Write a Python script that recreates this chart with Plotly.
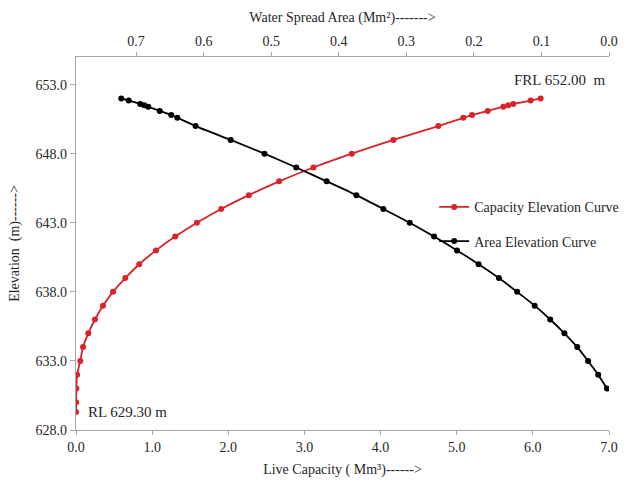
import plotly.graph_objects as go

# Capacity-elevation data (live capacity in Mm3)
cap_elev = [629.3, 630, 631, 632, 633, 634, 635, 636, 637, 638, 639, 640, 641, 642, 643,
            644, 645, 646, 647, 648, 649, 650, 650.6, 650.8, 651.1, 651.4, 651.5, 651.6,
            651.85, 652.0]
capacity = [0.0, 0.002, 0.005, 0.015, 0.056, 0.092, 0.161, 0.249, 0.354, 0.486, 0.647,
            0.831, 1.050, 1.303, 1.588, 1.907, 2.270, 2.668, 3.118, 3.622, 4.168, 4.759,
            5.087, 5.201, 5.407, 5.612, 5.677, 5.743, 5.971, 6.102]

# Area-elevation data (water spread area in Mm2)
area_elev = [631, 632, 633, 634, 635, 636, 637, 638, 639, 640, 641, 642, 643, 644, 645,
             646, 647, 648, 649, 650, 650.6, 650.8, 651.1, 651.4, 651.5, 651.6, 651.85, 652.0]
area = [0.003, 0.016, 0.031, 0.047, 0.066, 0.087, 0.110, 0.136, 0.163, 0.193, 0.225,
        0.259, 0.295, 0.334, 0.374, 0.418, 0.463, 0.510, 0.560, 0.612, 0.639, 0.648,
        0.665, 0.682, 0.688, 0.694, 0.711, 0.722]

FONT = "Liberation Serif"
RED = "#d9232b"
AXC = "#a6a6a6"
TXT = "#262626"

fig = go.Figure()
fig.add_trace(go.Scatter(
    x=capacity, y=cap_elev, mode="lines+markers", name="Capacity Elevation Curve",
    line=dict(color=RED, width=1.8, shape="spline", smoothing=0.6),
    marker=dict(color=RED, size=6), xaxis="x", yaxis="y", legendgroup="a"))
fig.add_trace(go.Scatter(
    x=area, y=area_elev, mode="lines+markers", name="Area Elevation Curve",
    line=dict(color="black", width=1.8, shape="spline", smoothing=0.6),
    marker=dict(color="black", size=6), xaxis="x2", yaxis="y", legendgroup="b"))

fig.update_layout(
    width=624, height=487,
    margin=dict(l=76, r=15, t=57, b=57, autoexpand=False),
    paper_bgcolor="white", plot_bgcolor="white",
    font=dict(family=FONT, size=14, color=TXT),
    xaxis=dict(range=[0, 7], dtick=1, tick0=0, tickformat=".1f",
               showline=True, linecolor=AXC, linewidth=1.2,
               ticks="outside", ticklen=4, tickcolor=AXC, showgrid=False, zeroline=False,
               title=dict(text="Live Capacity ( Mm³)------>", font=dict(size=14), standoff=10)),
    xaxis2=dict(range=[0.789, 0], dtick=0.1, tick0=0, tickformat=".1f",
                overlaying="x", side="top", anchor="y",
                showline=True, linecolor=AXC, linewidth=1.2,
                ticks="outside", ticklen=4, tickcolor=AXC, showgrid=False, zeroline=False,
                title=dict(text="Water Spread Area (Mm²)------->", font=dict(size=14), standoff=8)),
    yaxis=dict(range=[628, 655], dtick=5, tick0=628, tickformat=".1f",
               showline=True, linecolor=AXC, linewidth=1.2,
               ticks="outside", ticklen=5, tickcolor=AXC, showgrid=False, zeroline=False,
               title=dict(text="Elevation  (m)------>", font=dict(size=14), standoff=12)),
    legend=dict(x=0.672, y=0.64, xanchor="left", yanchor="top",
                font=dict(family=FONT, size=14, color=TXT),
                bgcolor="rgba(0,0,0,0)", tracegroupgap=13, traceorder="grouped"),
    showlegend=True,
)

fig.add_annotation(text="FRL 652.00  m", x=6.35, y=653.35, xref="x", yref="y",
                   showarrow=False, font=dict(family=FONT, size=15, color=TXT))
fig.add_annotation(text="RL 629.30 m", x=0.67, y=629.3, xref="x", yref="y",
                   showarrow=False, font=dict(family=FONT, size=15, color=TXT))

fig.write_html("out.html")
